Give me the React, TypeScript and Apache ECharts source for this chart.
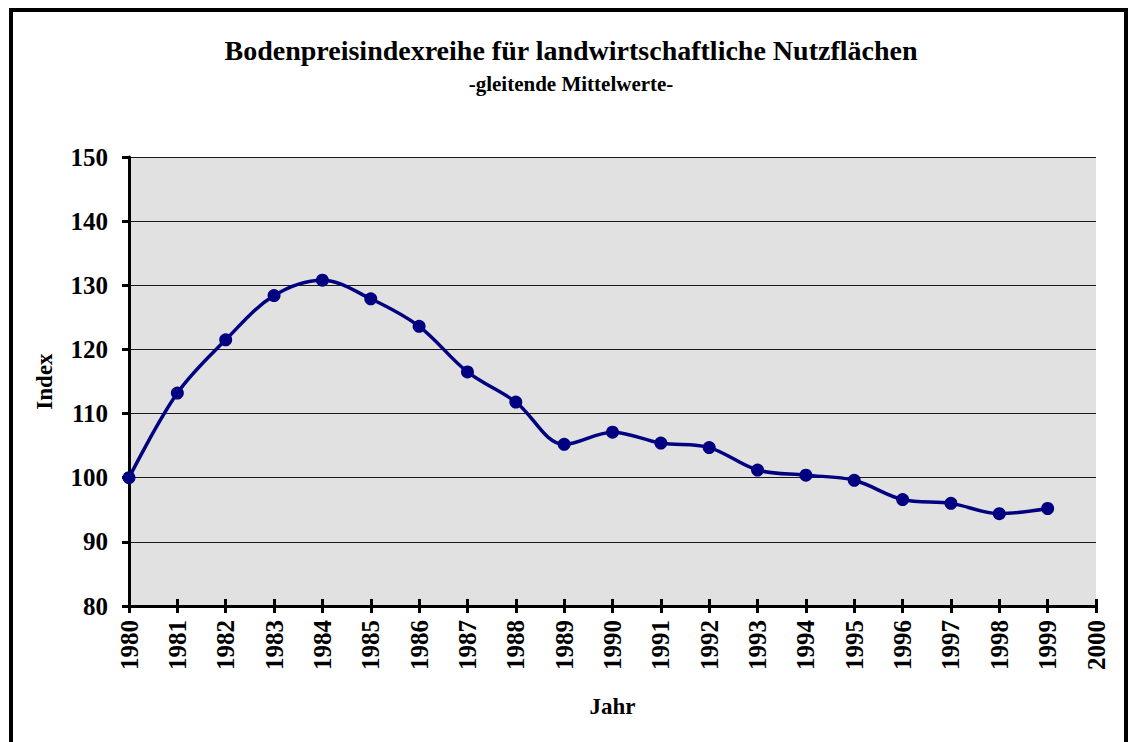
import React, { useEffect, useRef } from "react";
import * as echarts from "echarts";

const years = ["1980","1981","1982","1983","1984","1985","1986","1987","1988","1989","1990","1991","1992","1993","1994","1995","1996","1997","1998","1999","2000"];
const indexValues = [100.0, 113.2, 121.5, 128.4, 130.8, 127.9, 123.6, 116.5, 111.8, 105.2, 107.1, 105.4, 104.7, 101.2, 100.4, 99.6, 96.6, 96.0, 94.4, 95.2];
const titleText = "Bodenpreisindexreihe für landwirtschaftliche Nutzflächen";
const subtitleText = "-gleitende Mittelwerte-";
const yName = "Index";
const xName = "Jahr";

const FONT = "'Liberation Serif', 'Times New Roman', serif";

export default function App() {
  const ref = useRef<HTMLDivElement>(null);
  useEffect(() => {
    document.body.style.margin = "0";
    const chart = echarts.init(ref.current!, null, { renderer: "svg" });
    chart.setOption({
      animation: false,
      backgroundColor: "#ffffff",
      textStyle: { fontFamily: FONT },
      grid: { left: 129, right: 32, top: 157, bottom: 136, containLabel: false, show: true, backgroundColor: "#e1e1e1", borderWidth: 0 },
      xAxis: [
        {
          type: "category",
          data: years,
          boundaryGap: false,
          name: xName,
          nameLocation: "middle",
          nameGap: 89,
          nameTextStyle: { fontFamily: FONT, fontWeight: "bold", fontSize: 23, color: "#000" },
          axisLine: { lineStyle: { color: "#000", width: 3 } },
          axisTick: { show: true, inside: false, length: 7, lineStyle: { color: "#000", width: 3 } },
          axisLabel: { rotate: 90, fontFamily: FONT, fontWeight: "bold", fontSize: 25, color: "#000", margin: 14, interval: 0 },
          splitLine: { show: false },
        },
        {
          type: "category",
          data: years,
          boundaryGap: false,
          position: "bottom",
          axisLine: { show: false },
          axisTick: { show: true, inside: true, length: 7, lineStyle: { color: "#000", width: 3 } },
          axisLabel: { show: false },
          splitLine: { show: false },
        },
      ],
      yAxis: {
        type: "value",
        min: 80,
        max: 150,
        interval: 10,
        name: yName,
        nameLocation: "middle",
        nameGap: 73,
        nameRotate: 90,
        nameTextStyle: { fontFamily: FONT, fontWeight: "bold", fontSize: 23, color: "#000" },
        axisLine: { show: true, lineStyle: { color: "#000", width: 3 } },
        axisTick: { show: true, inside: false, length: 7, lineStyle: { color: "#000", width: 3 } },
        axisLabel: { fontFamily: FONT, fontWeight: "bold", fontSize: 25, color: "#000", margin: 21 },
        splitLine: { show: true, lineStyle: { color: "#1a1a1a", width: 1 } },
      },
      series: [
        {
          type: "line",
          data: indexValues,
          smooth: 0.35,
          symbol: "circle",
          symbolSize: 13,
          lineStyle: { color: "#000080", width: 3.5 },
          itemStyle: { color: "#000080" },
        },
      ],
      graphic: [
        {
          type: "rect",
          shape: { x: 11, y: 10, width: 1115, height: 760 },
          style: { fill: "none", stroke: "#000", lineWidth: 4 },
          silent: true,
        },
        {
          type: "text",
          x: 571,
          y: 50,
          style: { text: titleText, fontFamily: FONT, fontWeight: "bold", fontSize: 28, fill: "#000", textAlign: "center", textVerticalAlign: "middle" },
        },
        {
          type: "text",
          x: 571,
          y: 84,
          style: { text: subtitleText, fontFamily: FONT, fontWeight: "bold", fontSize: 21, fill: "#000", textAlign: "center", textVerticalAlign: "middle" },
        },
      ],
    });
    return () => chart.dispose();
  }, []);
  return <div ref={ref} style={{ width: 1128, height: 742 }} />;
}
